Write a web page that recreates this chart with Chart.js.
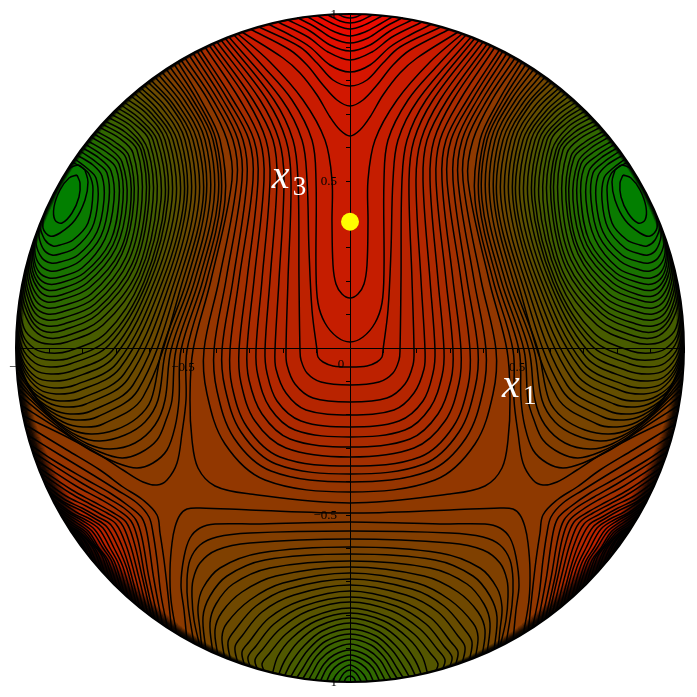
<!DOCTYPE html>
<html><head><meta charset="utf-8">
<style>html,body{margin:0;padding:0;background:#fff}canvas{display:block}</style>
<script src="https://cdn.jsdelivr.net/npm/chart.js@4"></script>
</head><body><canvas id="c" width="697" height="697"></canvas>
<script>
// Contours, as flat x,y lists on a grid of 334 divisions per axis unit.
// Only the right half is listed: the picture is left-right symmetric.
const divisionsPerUnit = 334;
const levelStep = 0.0153;
const saddleLevel = 36;

// Lines crossing the vertical axis that run up to the rim (levels 37 .. 62, low to high).
const centerLines = [
[0,-155,100,-146,135,-138,152,-120,158,-92,160,-52,157,-2,139,68,118,168,123,208,142,248,169,288],
[0,-144,85,-132,125,-96,143,-46,146,-2,131,68,113,168,117,208,137,248,165,290],
[0,-134,79,-123,116,-90,133,-43,136,-2,124,68,108,168,112,208,132,248,161,293],
[0,-126,74,-116,109,-84,125,-40,128,-2,117,68,103,168,107,208,127,248,157,295],
[0,-118,70,-109,103,-79,118,-38,120,-2,111,68,97,168,101,208,122,248,153,297],
[0,-109,64,-100,95,-73,109,-35,111,-2,103,68,92,168,96,208,117,248,150,299],
[0,-99,60,-91,88,-66,101,-32,103,-2,96,68,86,168,90,208,110,248,145,301],
[0,-89,55,-82,80,-60,92,-28,94,-2,88,68,80,168,84,208,103,248,141,303],
[0,-79,49,-73,73,-53,83,-25,85,-2,80,68,73,168,77,208,97,248,137,304],
[0,-67,44,-62,64,-45,74,-21,75,-2,71,68,66,168,71,208,90,248,133,306],
[0,-54,37,-50,55,-36,63,-17,64,-2,62,68,59,168,64,208,83,248,129,308],
[0,-37,29,-34,43,-25,49,-12,50,-2,51,68,52,168,57,208,76,248,125,310],
[0,-19,17,-18,27,-14,32,-9,33,-2,38,38,41,98,43,168,48,208,68,248,121,311],
[0,6,13,11,25,25,32,45,34,78,34,168,38,208,58,248,88,283,116,313],
[0,50,8,54,14,64,17,83,18,126,18,168,25,208,47,248,80,286,113,315],
[0,212,10,218,20,231,33,253,50,275,67,290,108,316],
[0,242,13,248,27,263,43,283,60,298,100,319],
[0,262,17,268,33,285,50,301,91,321],
[0,276,20,283,40,301,60,313,82,324],
[0,288,22,296,42,311,72,326],
[0,297,20,303,40,317,62,328],
[0,305,18,310,35,321,52,330],
[0,312,15,316,30,324,42,331],
[0,319,12,322,32,332],
[0,325,10,327,22,333],
[0,330,6,331,12,334]
];

// Lines crossing the vertical axis that run down to the rim (levels 36 .. 9).
const bottomLines = [
[0,-165,100,-162,150,-160,163,-161,170,-167,175,-179,178,-195,180,-222,179,-252,173,-288],
[0,-174,90,-176,135,-176,150,-180,160,-190,166,-209,169,-237,166,-262,163,-293],
[0,-183,100,-185,133,-189,150,-197,160,-212,163,-232,162,-257,156,-296],
[0,-191,100,-195,133,-202,150,-215,157,-232,158,-249,156,-272,150,-299],
[0,-199,90,-205,130,-220,147,-240,152,-259,150,-282,148,-301],
[0,-206,85,-212,123,-228,140,-248,147,-269,144,-303],
[0,-213,80,-220,117,-236,134,-256,140,-275,137,-306],
[0,-219,74,-228,108,-244,128,-264,135,-282,132,-309],
[0,-225,67,-235,100,-252,123,-275,128,-289,125,-312],
[0,-231,62,-241,94,-258,115,-282,122,-294,119,-314],
[0,-237,56,-247,88,-264,108,-288,115,-299,112,-316],
[0,-243,50,-253,81,-270,101,-294,108,-304,105,-319],
[0,-249,46,-258,76,-276,94,-298,102,-309,99,-321],
[0,-254,42,-263,70,-281,88,-302,95,-312,92,-323],
[0,-260,38,-269,64,-286,81,-306,88,-316,85,-325],
[0,-265,34,-273,58,-290,72,-308,78,-327],
[0,-270,31,-278,52,-294,65,-312,72,-328],
[0,-275,28,-283,46,-298,59,-315,66,-329],
[0,-281,26,-288,42,-302,53,-318,60,-330],
[0,-286,24,-293,38,-306,47,-320,54,-331],
[0,-291,21,-297,34,-309,42,-322,48,-332],
[0,-296,18,-302,30,-312,37,-324,42,-333],
[0,-302,16,-307,26,-316,36,-334],
[0,-307,14,-312,23,-320,30,-334],
[0,-312,11,-316,19,-324,24,-335],
[0,-317,8,-321,14,-327,18,-335],
[0,-322,6,-325,12,-335],
[0,-328,4,-330,6,-335]
];

// Lines around the green lobe, from the upper rim to the right rim (levels 36 .. 1).
const lobeLines = [
[172,286,149,248,130,208,125,148,143,68,163,-2,164,-52,168,-85,173,-115,183,-132,193,-137,207,-134,227,-122,250,-107,283,-89,331,-66],
[176,284,153,248,134,208,129,148,147,68,169,-2,171,-52,175,-79,183,-102,197,-115,213,-120,233,-115,260,-102,290,-82,334,-54],
[180,281,157,248,137,208,132,148,151,68,174,-2,178,-52,184,-72,193,-92,210,-105,228,-110,250,-104,278,-89,335,-44],
[184,279,161,248,141,208,136,148,155,68,179,-2,185,-52,195,-77,215,-95,240,-101,262,-96,290,-78,336,-37],
[188,276,165,247,145,208,140,148,159,68,184,-2,192,-52,205,-74,225,-87,250,-93,272,-88,298,-70,337,-30],
[192,274,169,246,149,208,144,148,163,68,188,-2,199,-52,213,-70,235,-82,259,-86,280,-81,304,-64,338,-23],
[195,271,173,245,153,208,147,148,167,68,207,-49,247,-76,267,-79,287,-74,308,-58,338,-16],
[199,268,177,244,157,208,151,148,171,68,212,-42,253,-69,274,-72,293,-67,312,-52,338,-10],
[202,266,180,243,161,208,155,148,175,68,217,-37,259,-63,280,-66,298,-61,316,-47,338,-4],
[206,263,184,241,165,208,159,148,179,68,222,-31,264,-56,285,-59,303,-54,320,-40,338,2],
[209,260,188,240,169,208,163,148,183,68,226,-26,268,-50,290,-53,307,-48,323,-34,338,8],
[212,258,192,238,173,208,166,148,187,68,230,-20,272,-43,294,-46,311,-41,326,-23,338,14],
[216,255,196,237,177,208,170,148,191,68,233,-15,275,-37,296,-40,313,-35,327,-17,337,20],
[219,252,199,235,181,208,174,148,195,68,236,-9,277,-30,298,-33,314,-29,328,-11,337,26],
[223,249,203,234,185,208,178,148,199,68,238,-3,278,-23,299,-26,315,-22,328,-5,337,32],
[226,246,207,232,189,208,182,148,203,66,241,3,280,-16,300,-19,315,-15,328,1,336,38],
[229,243,211,230,193,208,185,148,206,66,242,9,280,-10,300,-12,315,-8,327,7,335,44],
[232,240,214,228,197,208,189,148,209,68,244,15,281,-3,300,-5,315,-1,327,13,334,50],
[235,237,218,226,201,208,193,148,211,72,247,23,283,6,301,4,315,8,326,20,333,56],
[239,234,218,221,202,198,197,148,213,76,250,28,284,12,302,10,316,18,326,36,332,61],
[242,231,222,219,206,198,201,148,216,80,252,34,286,18,303,16,316,24,325,42,331,67],
[245,227,225,216,209,198,204,148,218,84,253,39,286,24,303,22,316,29,324,47,329,73],
[248,224,228,213,213,198,208,148,221,88,255,44,287,30,303,28,315,35,323,53,328,79],
[251,221,231,210,217,195,212,148,224,91,257,49,288,36,303,34,315,41,322,58,327,85],
[254,217,235,206,221,192,216,148,228,94,259,54,288,42,303,40,314,47,321,64,325,91],
[256,214,238,203,224,190,219,148,230,97,261,60,289,48,303,46,313,53,320,69,323,97],
[259,211,241,200,228,186,223,148,234,100,263,65,289,53,303,52,312,59,319,75,322,102],
[262,207,245,197,231,184,227,148,237,103,265,70,290,59,303,58,312,65,318,80,320,108],
[265,204,248,193,234,180,231,148,240,106,266,75,290,65,302,64,312,71,317,86,318,113],
[267,200,251,190,239,177,236,148,245,109,268,80,290,71,301,70,311,76,316,90,316,118],
[270,197,254,186,243,175,241,148,249,112,270,87,290,78,300,77,310,83,315,95,314,122],
[273,193,257,183,248,172,246,148,253,116,272,93,290,86,299,85,308,90,314,105,312,126],
[275,189,262,179,254,170,252,148,258,120,275,100,290,94,298,93,306,98,311,112,310,130],
[278,186,269,181,261,174,257,158,262,125,277,108,290,103,297,102,305,108,311,123,314,134],
[265,178,272,183,285,176,298,158,305,136,307,120,300,112,290,115,275,128,265,148,262,166,265,178],
[273,173,281,170,290,158,296,141,295,128,288,125,278,135,271,151,270,165,273,173]
];

// Lines of the red wedge at the lower rim, from the lower rim to the right rim (levels 37 .. 61).
const wedgeLines = [
[178,-286,182,-247,186,-212,190,-185,193,-167,207,-152,227,-139,250,-122,283,-102,329,-74],
[182,-282,189,-247,193,-212,197,-185,201,-169,213,-155,233,-142,257,-127,290,-107,327,-84],
[187,-279,196,-232,203,-185,208,-170,220,-159,240,-145,263,-132,297,-112,325,-93],
[191,-276,201,-230,208,-190,214,-172,226,-160,244,-149,270,-134,322,-101],
[195,-273,205,-229,212,-192,219,-173,232,-162,250,-151,274,-138,320,-108],
[198,-271,208,-228,216,-194,224,-174,238,-164,256,-154,278,-142,318,-115],
[202,-267,212,-226,220,-196,229,-175,243,-165,260,-156,280,-145,315,-121],
[206,-264,216,-224,224,-197,234,-176,248,-167,264,-158,284,-148,313,-127],
[210,-261,220,-222,228,-198,239,-177,252,-169,268,-160,286,-151,311,-132],
[213,-259,223,-221,232,-199,243,-179,256,-170,270,-162,288,-153,309,-137],
[217,-255,227,-219,236,-200,247,-180,260,-171,274,-164,306,-142],
[221,-252,231,-217,240,-200,251,-181,264,-172,278,-165,304,-146],
[225,-248,235,-215,244,-200,255,-182,267,-173,281,-165,302,-150],
[228,-245,238,-214,247,-200,258,-183,270,-174,283,-166,300,-154],
[232,-241,242,-212,251,-200,261,-184,273,-175,298,-158],
[236,-237,245,-210,254,-198,264,-184,276,-176,297,-161],
[240,-233,248,-208,257,-196,267,-184,278,-177,295,-164],
[244,-229,252,-206,260,-194,270,-184,280,-178,293,-167],
[248,-224,255,-204,263,-192,272,-184,282,-178,291,-170],
[252,-220,259,-202,266,-191,275,-183,290,-173],
[256,-215,262,-200,268,-190,277,-183,288,-175],
[260,-210,265,-199,271,-189,279,-183,287,-177],
[264,-205,268,-197,274,-188,286,-179],
[268,-200,272,-193,277,-186,285,-181],
[272,-194,278,-187,283,-183]
];

const markerPoint = [{x:0, y:0.378}];
const xTickLabels = {'-10':'\u22121','-5':'\u22120.5','5':'0.5'};
const yTickLabels = {'-10':'\u22121','-5':'\u22120.5','5':'0.5','10':'1'};
const axisNames = [
  {main:'x', sub:'1', x:0.455, y:-0.147},
  {main:'x', sub:'3', x:-0.234, y:0.479}
];
const zeroLabel = {text:'0', x:-0.027, y:-0.05};
// Width of the dark band along the rim where the contours crowd together, by angle.
const rimAngles = [-90,-60,-45,-30,-15,0,15,30,45,60,75,90];
const rimShade  = [1,3,4,4,5,8,12,18,18,8,2,1];

const toPoints = a => { const p=[]; for(let i=0;i<a.length;i+=2) p.push({x:a[i]/divisionsPerUnit,y:a[i+1]/divisionsPerUnit}); return p; };
const flip = p => p.map(q=>({x:-q.x,y:q.y}));
const whole = a => { const p=toPoints(a); return [...flip(p.slice(1)).reverse(),...p]; };
const colorAt = t => `rgb(${Math.round(255*t)},${Math.round(128*(1-t))},0)`;
const lineDataset = (data,level,seal,side) => ({data,bandColor:colorAt(level*levelStep),seal,side,
  borderColor:'#000',borderWidth:1.5,tension:0.35,pointRadius:0,pointHoverRadius:0,fill:false,
  borderJoinStyle:'round',capBezierPoints:false,spanGaps:true});

const datasets = [];
centerLines.forEach((a,i)=>datasets.push(lineDataset(whole(a),saddleLevel+1+i+0.5,'up',0)));
bottomLines.forEach((a,i)=>datasets.push(lineDataset(whole(a),saddleLevel-i-0.5,'down',0)));
lobeLines.forEach((a,i)=>{const l=saddleLevel-i-0.5;
  datasets.push(lineDataset(toPoints(a),l,'side',1));
  datasets.push(lineDataset(flip(toPoints(a)),l,'side',-1));});
wedgeLines.forEach((a,i)=>{const l=saddleLevel+1+i+0.5;
  datasets.push(lineDataset(toPoints(a),l,'wedge',1));
  datasets.push(lineDataset(flip(toPoints(a)),l,'wedge',-1));});
datasets.push({data:markerPoint,showLine:false,pointRadius:9,pointHoverRadius:9,pointBackgroundColor:'#ffff00',pointBorderWidth:0,borderWidth:0});

const disk = (ctx,chart) => { const {x,y}=chart.scales;
  ctx.beginPath();
  ctx.arc(x.getPixelForValue(0),y.getPixelForValue(0),(x.right-x.left)/2,0,Math.PI*2); };

const shadeAt = deg => { for(let i=0;i<rimAngles.length-1;i++){ if(deg<=rimAngles[i+1]){
  const f=(deg-rimAngles[i])/(rimAngles[i+1]-rimAngles[i]); return rimShade[i]+f*(rimShade[i+1]-rimShade[i]); } } return 1; };

const diskPlugin = {
  id:'disk',
  beforeDraw(chart){ const ctx=chart.ctx; ctx.save(); disk(ctx,chart); ctx.clip();
    ctx.fillStyle=colorAt((saddleLevel+0.5)*levelStep); ctx.fillRect(0,0,chart.width,chart.height);
    const far=3000;
    chart.data.datasets.forEach((d,i)=>{ if(!d.seal) return;
      const m=chart.getDatasetMeta(i), line=m.dataset; if(!line) return;
      line.updateControlPoints(chart.chartArea,'x');
      const a=m.data[0], b=m.data[m.data.length-1];
      ctx.beginPath(); line.path(ctx);
      if(d.seal==='up'){ctx.lineTo(b.x,-far);ctx.lineTo(a.x,-far);}
      else if(d.seal==='down'){ctx.lineTo(b.x,far);ctx.lineTo(a.x,far);}
      else if(d.seal==='side'){ctx.lineTo(d.side*far,b.y);ctx.lineTo(d.side*far,a.y);}
      else {ctx.lineTo(d.side*far,b.y);ctx.lineTo(d.side*far,far);ctx.lineTo(a.x,far);}
      ctx.closePath(); ctx.fillStyle=d.bandColor; ctx.fill();
    });
    ctx.restore(); },
  beforeDatasetsDraw(chart){ const ctx=chart.ctx, {x,y}=chart.scales;
    ctx.save(); ctx.fillStyle='#000'; ctx.font='13px "Liberation Serif"'; ctx.textAlign='right'; ctx.textBaseline='middle';
    const ax=x.getPixelForValue(0);
    y.ticks.forEach((t,i)=>{ if(t.label) ctx.fillText(t.label,ax-13,y.getPixelForTick(i)+1); });
    ctx.textAlign='center';
    ctx.fillText(zeroLabel.text,x.getPixelForValue(zeroLabel.x),y.getPixelForValue(zeroLabel.y));
    ctx.restore();
    ctx.save(); disk(ctx,chart); ctx.clip(); },
  afterDatasetsDraw(chart){ const ctx=chart.ctx; const {x,y}=chart.scales;
    const cx=x.getPixelForValue(0), cy=y.getPixelForValue(0), r=(x.right-x.left)/2;
    for(let deg=-90;deg<90;deg++){ const w=shadeAt(deg+0.5);
      const g=ctx.createRadialGradient(cx,cy,r-w,cx,cy,r);
      g.addColorStop(0,'rgba(0,0,0,0)'); g.addColorStop(0.6,'rgba(0,0,0,0.85)'); g.addColorStop(1,'rgba(0,0,0,1)');
      ctx.strokeStyle=g; ctx.lineWidth=w; 
      const a0=deg*Math.PI/180, a1=(deg+1.05)*Math.PI/180;
      ctx.beginPath(); ctx.arc(cx,cy,r-w/2,a0,a1); ctx.stroke();
      ctx.beginPath(); ctx.arc(cx,cy,r-w/2,Math.PI-a1,Math.PI-a0); ctx.stroke();
    }
    ctx.restore();
    disk(ctx,chart); ctx.strokeStyle='#000'; ctx.lineWidth=2; ctx.stroke();
    ctx.fillStyle='#fff'; ctx.textAlign='left'; ctx.textBaseline='alphabetic';
    axisNames.forEach(n=>{ const px=x.getPixelForValue(n.x), py=y.getPixelForValue(n.y);
      ctx.font='italic 40px "Liberation Serif"'; ctx.fillText(n.main,px,py);
      ctx.font='27px "Liberation Serif"'; ctx.fillText(n.sub,px+21,py+7); });
  }
};

const tickFont = {family:'"Liberation Serif"',size:13};
new Chart(document.getElementById('c'),{
  type:'line',
  data:{datasets},
  plugins:[diskPlugin],
  options:{
    responsive:false, animation:false, events:[],
    layout:{autoPadding:false,padding:{left:16,right:13,top:14,bottom:15}},
    plugins:{legend:{display:false},tooltip:{enabled:false},title:{display:false}},
    scales:{
      x:{type:'linear',min:-1,max:1,position:{y:0},
        grid:{drawOnChartArea:false,drawTicks:true,tickLength:4,tickColor:'#000'},
        border:{display:true,color:'#000',width:1},
        ticks:{stepSize:0.1,autoSkip:false,maxRotation:0,minRotation:0,maxTicksLimit:21,padding:8,color:'#000',font:tickFont,
          callback:v=>xTickLabels[Math.round(v*10)]||''}},
      y:{type:'linear',min:-1,max:1,position:{x:0},
        grid:{drawOnChartArea:false,drawTicks:true,tickLength:4,tickColor:'#000'},
        border:{display:true,color:'#000',width:1},
        ticks:{display:false,stepSize:0.1,autoSkip:false,maxTicksLimit:21,color:'#000',font:tickFont,
          callback:v=>yTickLabels[Math.round(v*10)]||''}}
    }
  }
});
</script></body></html>
